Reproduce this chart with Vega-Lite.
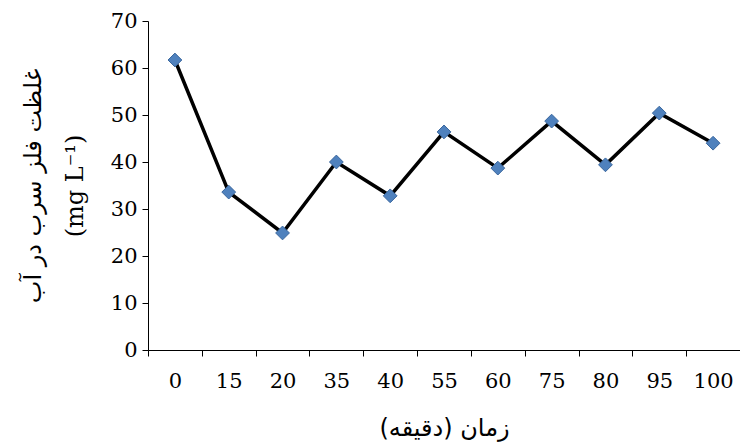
{
  "$schema": "https://vega.github.io/schema/vega-lite/v6.json",
  "autosize": "none",
  "width": 592,
  "height": 329,
  "padding": {"left": 148, "top": 21, "right": 0, "bottom": 98},
  "background": "white",
  "config": {"view": {"stroke": null}},
  "data": {"values": [
    {"t": "0", "c": 61.7},
    {"t": "15", "c": 33.6},
    {"t": "20", "c": 24.9},
    {"t": "35", "c": 40.0},
    {"t": "40", "c": 32.8},
    {"t": "55", "c": 46.4},
    {"t": "60", "c": 38.7},
    {"t": "75", "c": 48.7},
    {"t": "80", "c": 39.4},
    {"t": "95", "c": 50.4},
    {"t": "100", "c": 44.0}
  ]},
  "encoding": {
    "x": {
      "field": "t", "type": "ordinal", "sort": null,
      "scale": {"paddingInner": 0, "paddingOuter": 0},
      "axis": {
        "title": "زمان (دقیقه)", "labelAngle": 0, "tickBand": "extent",
        "domainColor": "#000", "tickColor": "#000", "tickSize": 6,
        "labelFont": "DejaVu Serif", "labelFontSize": 21, "labelColor": "#000", "labelPadding": 14,
        "titleFont": "DejaVu Sans", "titleFontSize": 24, "titleFontWeight": "normal", "titleColor": "#000", "titlePadding": 25,
        "grid": false
      }
    },
    "y": {
      "field": "c", "type": "quantitative",
      "scale": {"domain": [0, 70]},
      "axis": {
        "title": ["غلظت فلز سرب در آب", "(mg L⁻¹)"],
        "values": [0, 10, 20, 30, 40, 50, 60, 70],
        "domainColor": "#000", "tickColor": "#000", "tickSize": 6,
        "labelFont": "DejaVu Serif", "labelFontSize": 21, "labelColor": "#000", "labelPadding": 5,
        "titleFont": "DejaVu Serif, DejaVu Sans", "titleFontSize": 24, "titleFontWeight": "normal", "titleColor": "#000",
        "titleLineHeight": 42, "titlePadding": 23,
        "grid": false
      }
    }
  },
  "layer": [
    {"mark": {"type": "line", "color": "#000", "strokeWidth": 3.5}},
    {"mark": {"type": "point", "shape": "diamond", "filled": true, "fill": "#4f81bd", "stroke": "#3a679e", "strokeWidth": 1, "size": 190, "opacity": 1}}
  ]
}
